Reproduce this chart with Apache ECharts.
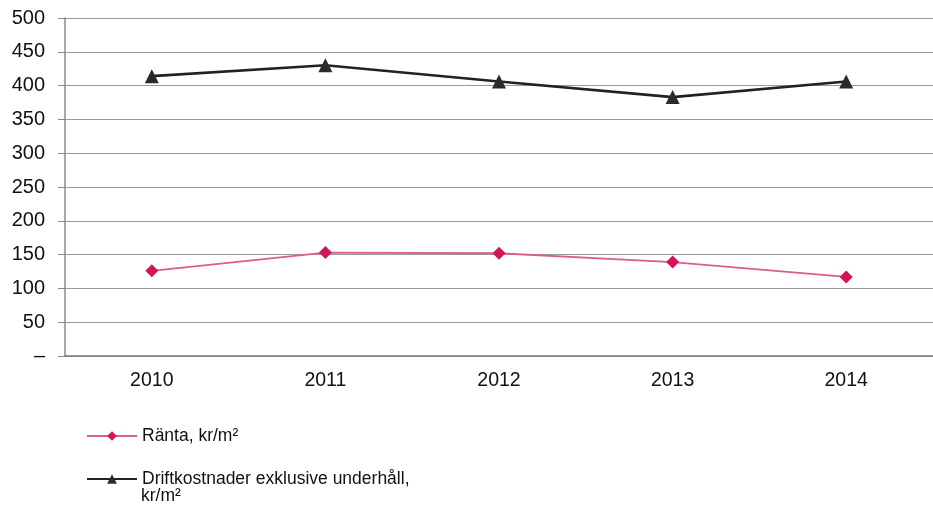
<!DOCTYPE html>
<html><head><meta charset="utf-8">
<script src="https://cdn.jsdelivr.net/npm/echarts@6/dist/echarts.min.js"></script>
<style>html,body{margin:0;padding:0;background:#fff}#c{width:933px;height:506px}</style>
</head><body><div id="c"></div>
<script>
const years = ['2010','2011','2012','2013','2014'];
const ranta = [126, 153, 152, 139, 117];
const drift = [414, 430, 406, 383, 406];
const rantaName = 'Ränta, kr/m²';
const driftName = 'Driftkostnader exklusive underhåll, kr/m²';
const driftLine1 = 'Driftkostnader exklusive underhåll,';
const driftLine2 = 'kr/m²';

const chart = echarts.init(document.getElementById('c'));
const font = 'Liberation Sans, Arial, sans-serif';
chart.setOption({
  animation: false,
  backgroundColor: '#fff',
  grid: { left: 65, top: 18, bottom: 150, right: -7 },
  xAxis: {
    type: 'category', data: years, boundaryGap: true,
    axisLine: { lineStyle: { color: '#7a7a7a', width: 1.5 } },
    axisTick: { inside: true, length: 6, lineStyle: { color: '#777' } },
    axisLabel: { color: '#111', fontSize: 19.5, fontFamily: font, margin: 15 }
  },
  yAxis: {
    type: 'value', min: 0, max: 500, interval: 50,
    axisLine: { show: true, lineStyle: { color: '#8a8a8a', width: 1.5 } },
    axisTick: { show: true, length: 7, lineStyle: { color: '#888' } },
    splitLine: { lineStyle: { color: '#999', width: 1.2 } },
    axisLabel: { color: '#111', fontSize: 20, fontFamily: font, margin: 20,
      formatter: v => v === 0 ? '–' : String(v) }
  },
  legend: [
    { data: [rantaName], orient: 'vertical', left: 86, top: 427, padding: 0,
      itemWidth: 50, itemHeight: 12,
      textStyle: { color: '#111', fontSize: 17.5, fontFamily: font } },
    { data: [driftName], orient: 'vertical', left: 86, top: 470, padding: 0,
      itemWidth: 50, itemHeight: 12,
      formatter: () => driftLine1,
      textStyle: { color: '#111', fontSize: 17.5, fontFamily: font } }
  ],
  graphic: [
    { type: 'text', left: 141, top: 487,
      style: { text: driftLine2, fill: '#111', font: '17.5px ' + font } }
  ],
  series: [
    { name: rantaName, type: 'line', data: ranta,
      symbol: 'diamond', symbolSize: 13,
      lineStyle: { color: '#dc5c8e', width: 1.8 },
      itemStyle: { color: '#d4145a' } },
    { name: driftName, type: 'line', data: drift,
      symbol: 'triangle', symbolSize: 14,
      lineStyle: { color: '#222', width: 2.6 },
      itemStyle: { color: '#2a2a2a' } }
  ]
});
</script></body></html>
